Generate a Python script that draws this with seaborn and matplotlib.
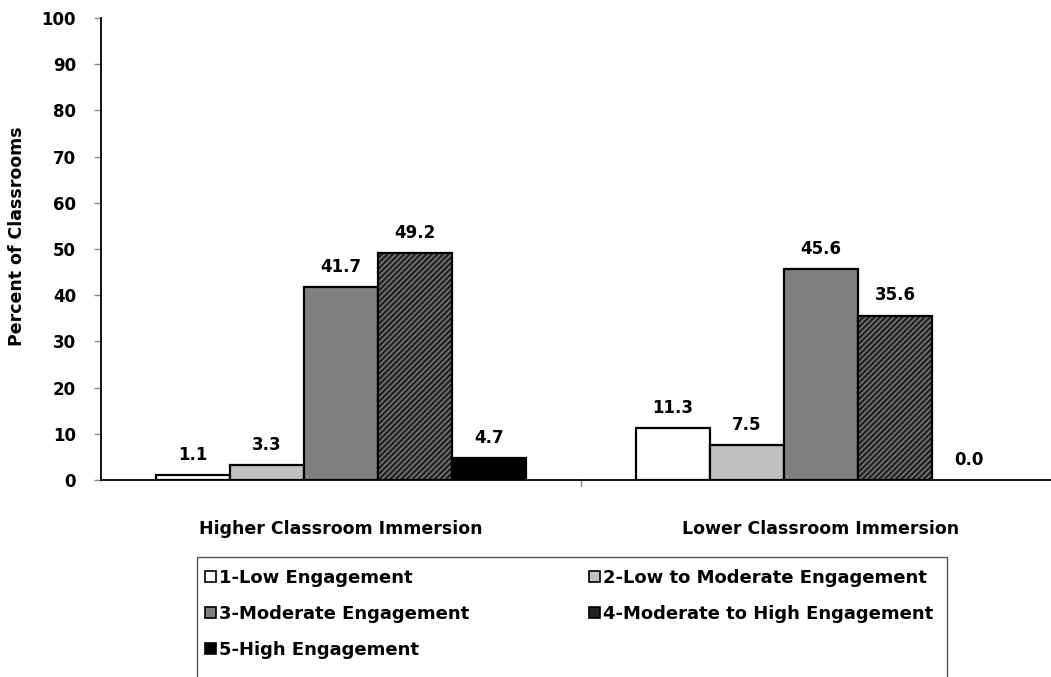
import matplotlib
matplotlib.use("Agg")
import matplotlib.pyplot as plt
from matplotlib.patches import Rectangle, Patch
import seaborn as sns
import pandas as pd

categories = ["Higher Classroom Immersion", "Lower Classroom Immersion"]
levels = ["1-Low Engagement", "2-Low to Moderate Engagement", "3-Moderate Engagement",
          "4-Moderate to High Engagement", "5-High Engagement"]
higher_vals = [1.1, 3.3, 41.7, 49.2, 4.7]
lower_vals = [11.3, 7.5, 45.6, 35.6, 0.0]
yticks = [0, 10, 20, 30, 40, 50, 60, 70, 80, 90, 100]

fills = ["#ffffff", "#c0c0c0", "#808080", "#222222", "#000000"]
hatches = [None, None, None, "//////", None]

rows = []
for lv, h, l in zip(levels, higher_vals, lower_vals):
    rows.append({"cat": categories[0], "lvl": lv, "val": h})
    rows.append({"cat": categories[1], "lvl": lv, "val": l})
df = pd.DataFrame(rows)

sns.set_theme(style="white")
plt.rcParams["font.family"] = ["DejaVu Sans"]
plt.rcParams["font.weight"] = "bold"
plt.rcParams["hatch.linewidth"] = 1.1
plt.rcParams["text.color"] = "black"
plt.rcParams["axes.labelcolor"] = "black"
plt.rcParams["xtick.color"] = "black"
plt.rcParams["ytick.color"] = "black"

W, H = 1051, 677
fig = plt.figure(figsize=(W / 100, H / 100), dpi=100)
ax = fig.add_axes([101 / W, 1 - 480 / H, (W - 101) / W, 462 / H])

sns.barplot(data=df, x="cat", y="val", hue="lvl", order=categories, hue_order=levels,
            palette=fills, width=0.77, edgecolor="black", linewidth=1.6,
            legend=False, ax=ax, saturation=1)

for i, cont in enumerate(ax.containers):
    for j, bar in enumerate(cont):
        bar.set_facecolor(fills[i])
        if bar.get_height() == 0:
            bar.set_linewidth(0)
            continue
        if hatches[i]:
            bar.set_hatch(hatches[i])
            bar.set_edgecolor("#7a7a7a")
            bar.set_linewidth(0)
            ax.add_patch(Rectangle(bar.get_xy(), bar.get_width(), bar.get_height(),
                                   fill=False, edgecolor="black", linewidth=1.6,
                                   zorder=bar.get_zorder() + 0.1))
    vals = [higher_vals[i], lower_vals[i]]
    ax.bar_label(cont, labels=[f"{v:.1f}" for v in vals], padding=8,
                 fontsize=12, fontweight="bold", color="black")

ax.set_ylim(0, 100)
ax.set_xlim(-0.5, -0.5 + (W - 101) / 480)
ax.set_yticks(yticks)
ax.set_yticklabels([str(t) for t in yticks], fontsize=12, fontweight="bold")
ax.set_xticks([0, 1])
ax.set_xticklabels(categories, fontsize=12.5, fontweight="bold")
ax.tick_params(axis="x", length=0, pad=29)
ax.tick_params(axis="y", length=5, width=1, color="#888888", labelcolor="black",
               direction="out", pad=13, left=True)
ax.set_xlabel("")
ax.set_ylabel("Percent of Classrooms", fontsize=12.5, fontweight="bold", color="black")
ax.yaxis.set_label_coords(-75 / 950, (480 - 236) / 462)
for s in ["top", "right"]:
    ax.spines[s].set_visible(False)
for s in ["left", "bottom"]:
    ax.spines[s].set_color("black")
    ax.spines[s].set_linewidth(1.3)
# category divider tick
ax.plot([0.5, 0.5], [0, -1.4], color="#888888", lw=1, clip_on=False)

# legend
handles = [Patch(facecolor=fills[i], edgecolor="black", linewidth=1.2, label=lv)
           for i, lv in enumerate(levels)]
order = [0, 2, 4, 1, 3]
leg = fig.legend([handles[k] for k in order], [levels[k] for k in order],
                 loc="upper left", bbox_to_anchor=(205 / W, 1 - 569 / H), ncol=2,
                 frameon=False, handlelength=0.6, handleheight=0.6,
                 handletextpad=0.2, columnspacing=6.6, labelspacing=1.0, borderaxespad=0,
                 borderpad=0, prop={"weight": "bold", "size": 13})
for t in leg.get_texts():
    t.set_color("black")
fig.add_artist(Rectangle((197 / W, -0.02), 750 / W, (1 - 557 / H) + 0.02, transform=fig.transFigure,
                         fill=False, edgecolor="#555555", linewidth=1))

fig.savefig("out.png", dpi=100)
